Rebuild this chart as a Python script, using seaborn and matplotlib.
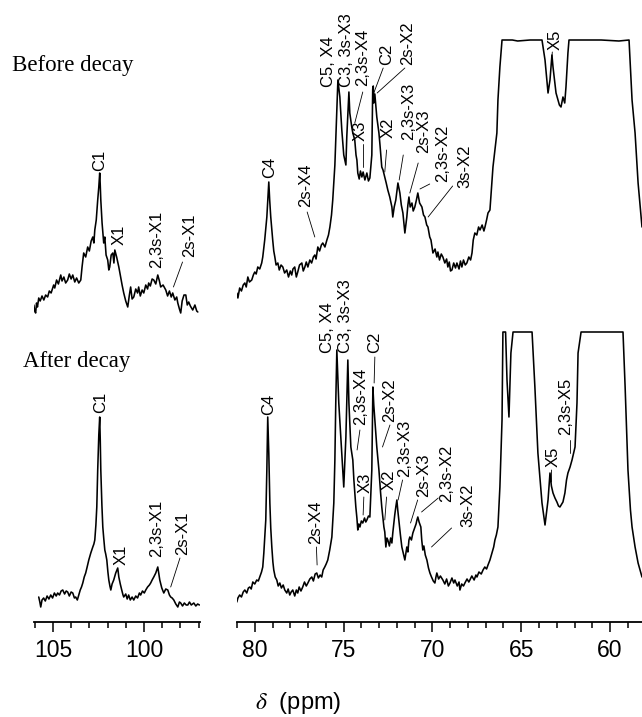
import numpy as np
import matplotlib
matplotlib.use("Agg")
import matplotlib.pyplot as plt
import seaborn as sns

# 13C CP/MAS spectra: (delta / ppm, intensity above own baseline, a.u.)
before_low = np.array([
    (106.05, 10), (106.0, 4), (105.95, 2), (105.9, 12), (105.85, 8), (105.78, 17), (105.7, 14),
    (105.6, 19), (105.5, 15), (105.4, 20), (105.29, 18), (105.2, 24), (105.1, 22), (104.96, 30),
    (104.9, 27), (104.8, 35), (104.7, 31), (104.57, 40), (104.5, 34), (104.4, 38), (104.3, 32),
    (104.19, 35), (104.1, 41), (104.0, 36), (103.91, 40), (103.8, 33), (103.7, 37), (103.58, 32),
    (103.47, 35), (103.4, 48), (103.31, 62), (103.2, 58), (103.09, 68), (103.0, 64), (102.9, 74),
    (102.81, 78), (102.75, 72), (102.70, 85), (102.62, 95), (102.54, 115), (102.48, 128),
    (102.43, 142), (102.40, 130), (102.37, 115), (102.3, 92), (102.21, 72), (102.15, 78),
    (102.08, 60), (101.99, 55), (101.93, 45), (101.88, 48), (101.8, 60), (101.71, 62),
    (101.65, 52), (101.60, 65), (101.5, 58), (101.38, 48), (101.3, 40), (101.2, 30), (101.11, 22),
    (101.0, 14), (100.89, 8), (100.8, 20), (100.73, 28), (100.65, 16), (100.56, 18), (100.45, 26),
    (100.35, 22), (100.29, 28), (100.2, 19), (100.1, 25), (100.01, 22), (99.9, 30), (99.8, 26),
    (99.74, 32), (99.65, 29), (99.55, 36), (99.46, 35), (99.35, 31), (99.24, 40), (99.15, 34),
    (99.08, 28), (98.95, 30), (98.8, 25), (98.7, 19), (98.6, 24), (98.5, 18), (98.42, 22),
    (98.3, 15), (98.2, 18), (98.14, 12), (98.05, 6), (97.98, 2), (97.9, 14), (97.8, 20),
    (97.70, 20), (97.62, 10), (97.54, 13), (97.45, 9), (97.32, 5), (97.2, 10), (97.1, 4), (97.04, 3),
])

before_high = np.array([
    (81.01, 22), (80.95, 17), (80.85, 27), (80.75, 24), (80.65, 30), (80.56, 32), (80.48, 28),
    (80.39, 38), (80.3, 33), (80.17, 35), (80.08, 40), (80.0, 43), (79.92, 41), (79.83, 48),
    (79.72, 46), (79.61, 52), (79.55, 58), (79.44, 75), (79.32, 98), (79.25, 120), (79.21, 133),
    (79.16, 115), (79.10, 98), (78.99, 75), (78.93, 64), (78.87, 58), (78.8, 50), (78.7, 52),
    (78.62, 45), (78.52, 50), (78.42, 48), (78.32, 42), (78.2, 45), (78.1, 38), (78.0, 44),
    (77.92, 40), (77.85, 46), (77.75, 48), (77.66, 38), (77.58, 43), (77.48, 50), (77.35, 52),
    (77.27, 44), (77.18, 48), (77.1, 53), (77.01, 48), (76.9, 55), (76.8, 52), (76.7, 58),
    (76.62, 60), (76.55, 56), (76.45, 68), (76.35, 64), (76.25, 70), (76.17, 72), (76.05, 68),
    (75.94, 75), (75.85, 80), (75.77, 88), (75.68, 100), (75.61, 115), (75.49, 150), (75.38, 205),
    (75.32, 235), (75.21, 218), (75.10, 185), (74.99, 160), (74.87, 150), (74.82, 178),
    (74.70, 223), (74.65, 202), (74.54, 188), (74.48, 182), (74.37, 175), (74.3, 160), (74.25, 155),
    (74.20, 142), (74.12, 136), (74.05, 144), (73.97, 138), (73.9, 143), (73.8, 135), (73.69, 142),
    (73.6, 134), (73.52, 137), (73.41, 160), (73.36, 226), (73.33, 229), (73.30, 212), (73.24, 221),
    (73.13, 198), (73.01, 182), (72.95, 170), (72.85, 148), (72.78, 145), (72.68, 138), (72.6, 132),
    (72.51, 125), (72.4, 118), (72.28, 108), (72.23, 98), (72.15, 108), (72.06, 115), (71.94, 132),
    (71.83, 122), (71.75, 110), (71.66, 102), (71.55, 82), (71.44, 98), (71.38, 110), (71.32, 118),
    (71.25, 108), (71.15, 112), (71.08, 104), (70.99, 108), (70.9, 115), (70.82, 122), (70.72, 112),
    (70.59, 108), (70.5, 100), (70.42, 98), (70.32, 90), (70.25, 88), (70.15, 78), (70.08, 75),
    (69.97, 62), (69.85, 66), (69.75, 58), (69.69, 63), (69.6, 55), (69.5, 61), (69.41, 58),
    (69.3, 52), (69.2, 56), (69.13, 48), (69.05, 53), (68.98, 44), (68.9, 45), (68.8, 52),
    (68.7, 47), (68.62, 52), (68.5, 46), (68.42, 54), (68.34, 48), (68.25, 55), (68.15, 50),
    (68.06, 52), (67.95, 58), (67.85, 55), (67.77, 62), (67.7, 75), (67.61, 82), (67.5, 80),
    (67.4, 88), (67.32, 85), (67.2, 90), (67.1, 84), (67.04, 88), (66.95, 95), (66.87, 102),
    (66.76, 105), (66.59, 148), (66.37, 182), (66.31, 215), (66.20, 248), (66.08, 275),
    (65.5, 275), (65.2, 274), (64.5, 275), (63.83, 275), (63.66, 255), (63.49, 222), (63.38, 235),
    (63.27, 260), (63.21, 248), (63.04, 222), (62.93, 215), (62.85, 210), (62.76, 208),
    (62.65, 218), (62.55, 212), (62.48, 228), (62.37, 262), (62.31, 275), (60.5, 275), (59.5, 274),
    (58.93, 275), (58.76, 215), (58.59, 182), (58.42, 132), (58.2, 88),
])

after_low = np.array([
    (105.78, 13), (105.72, 8), (105.67, 3), (105.6, 10), (105.51, 12), (105.42, 9), (105.32, 14),
    (105.22, 11), (105.12, 15), (105.02, 12), (104.92, 17), (104.82, 14), (104.74, 17),
    (104.64, 15), (104.55, 19), (104.46, 20), (104.36, 16), (104.27, 19), (104.19, 18), (104.1, 14),
    (104.0, 18), (103.91, 17), (103.82, 12), (103.75, 13), (103.66, 10), (103.58, 15), (103.5, 20),
    (103.43, 23), (103.36, 27), (103.28, 33), (103.20, 37), (103.12, 43), (103.03, 50),
    (102.92, 57), (102.81, 63), (102.75, 66), (102.70, 70), (102.64, 85), (102.59, 103),
    (102.54, 140), (102.48, 175), (102.43, 193), (102.40, 170), (102.37, 140), (102.31, 105),
    (102.26, 83), (102.21, 72), (102.15, 60), (102.1, 56), (102.04, 50), (101.98, 38), (101.93, 30),
    (101.87, 24), (101.82, 20), (101.75, 26), (101.66, 30), (101.55, 37), (101.44, 42),
    (101.38, 33), (101.3, 26), (101.22, 20), (101.15, 15), (101.11, 13), (101.0, 16), (100.92, 11),
    (100.84, 15), (100.75, 10), (100.65, 13), (100.56, 10), (100.45, 14), (100.35, 12),
    (100.25, 17), (100.18, 15), (100.08, 19), (99.98, 17), (99.90, 20), (99.8, 23), (99.7, 25),
    (99.63, 27), (99.55, 30), (99.46, 33), (99.35, 37), (99.24, 43), (99.18, 36), (99.13, 30),
    (99.02, 22), (98.91, 17), (98.8, 21), (98.69, 20), (98.6, 15), (98.53, 13), (98.45, 12),
    (98.36, 10), (98.25, 6), (98.14, 3), (98.05, 8), (97.98, 7), (97.88, 4), (97.78, 7), (97.68, 5),
    (97.59, 5), (97.5, 8), (97.4, 5), (97.26, 7), (97.15, 4), (97.05, 6), (96.95, 5),
])

after_high = np.array([
    (81.01, 8), (80.95, 12), (80.85, 15), (80.75, 13), (80.65, 18), (80.56, 20), (80.45, 17),
    (80.36, 22), (80.28, 23), (80.2, 21), (80.11, 28), (80.0, 26), (79.89, 30), (79.8, 29),
    (79.72, 33), (79.62, 38), (79.55, 43), (79.49, 57), (79.38, 90), (79.32, 140), (79.27, 193),
    (79.24, 175), (79.21, 157), (79.15, 107), (79.1, 82), (79.04, 63), (78.98, 48), (78.93, 40),
    (78.85, 33), (78.76, 30), (78.68, 24), (78.59, 27), (78.5, 22), (78.4, 25), (78.31, 20),
    (78.2, 17), (78.12, 21), (78.03, 15), (77.95, 18), (77.86, 20), (77.75, 14), (77.66, 20),
    (77.58, 17), (77.5, 23), (77.4, 19), (77.30, 23), (77.2, 28), (77.1, 24), (77.01, 27),
    (76.9, 31), (76.79, 33), (76.7, 29), (76.6, 36), (76.51, 37), (76.42, 32), (76.32, 35),
    (76.23, 33), (76.15, 40), (76.06, 43), (75.98, 46), (75.89, 50), (75.78, 60), (75.66, 73),
    (75.55, 107), (75.49, 150), (75.44, 207), (75.38, 260), (75.27, 207), (75.18, 180),
    (75.10, 157), (74.99, 123), (74.87, 173), (74.76, 250), (74.70, 207), (74.59, 163),
    (74.48, 150), (74.42, 130), (74.31, 103), (74.25, 92), (74.20, 80), (74.14, 86), (74.08, 83),
    (74.0, 89), (73.92, 87), (73.82, 92), (73.75, 88), (73.69, 90), (73.6, 94), (73.52, 93),
    (73.41, 140), (73.35, 223), (73.30, 205), (73.24, 190), (73.13, 163), (73.01, 140),
    (72.92, 118), (72.85, 103), (72.73, 83), (72.68, 78), (72.62, 63), (72.56, 72), (72.51, 70),
    (72.42, 64), (72.35, 72), (72.28, 67), (72.23, 77), (72.12, 95), (72.06, 103), (72.00, 110),
    (71.95, 100), (71.89, 90), (71.8, 75), (71.72, 63), (71.63, 56), (71.55, 50), (71.5, 56),
    (71.44, 63), (71.38, 58), (71.32, 70), (71.27, 73), (71.18, 70), (71.10, 77), (71.0, 82),
    (70.92, 86), (70.87, 90), (70.82, 93), (70.75, 88), (70.65, 83), (70.6, 70), (70.54, 60),
    (70.48, 64), (70.4, 55), (70.31, 50), (70.22, 42), (70.14, 37), (70.05, 33), (69.95, 29),
    (69.86, 27), (69.8, 33), (69.75, 37), (69.65, 31), (69.55, 34), (69.41, 30), (69.3, 26),
    (69.2, 31), (69.1, 24), (69.01, 27), (68.9, 32), (68.8, 27), (68.73, 30), (68.6, 24),
    (68.5, 28), (68.45, 20), (68.35, 26), (68.25, 24), (68.17, 27), (68.05, 31), (67.95, 28),
    (67.89, 30), (67.78, 34), (67.65, 30), (67.55, 35), (67.49, 33), (67.38, 38), (67.25, 36),
    (67.15, 40), (67.05, 43), (66.95, 41), (66.87, 45), (66.76, 50), (66.65, 57), (66.55, 63),
    (66.48, 70), (66.4, 75), (66.31, 83), (66.20, 123), (66.08, 190), (66.03, 278), (65.88, 278),
    (65.80, 230), (65.69, 193), (65.58, 257), (65.46, 278), (64.39, 278), (64.23, 223),
    (64.06, 157), (63.83, 107), (63.66, 85), (63.49, 110), (63.38, 137), (63.3, 124), (63.21, 117),
    (63.1, 112), (62.99, 108), (62.9, 104), (62.82, 103), (62.65, 108), (62.54, 117), (62.45, 130),
    (62.37, 137), (62.25, 143), (62.14, 150), (62.05, 157), (61.97, 163), (61.86, 207),
    (61.80, 257), (61.63, 278), (59.27, 278), (59.15, 223), (58.99, 140), (58.85, 100),
    (58.76, 83), (58.59, 63), (58.42, 47), (58.2, 33),
])

# peak assignments: (label, ppm, intensity at label foot, leader line or None)
before_low_labels = [
    ("C1", 102.43, 144, None),
    ("X1", 101.35, 70, None),
    ("2,3s-X1", 99.30, 47, None),
    ("2s-X1", 97.48, 58, ((97.88, 53), (98.38, 28))),
]
before_high_labels = [
    ("C4", 79.15, 137, None),
    ("2s-X4", 77.14, 108, ((77.05, 103), (76.62, 78))),
    ("C5, X4", 75.83, 228, None),
    ("C3, 3s-X3", 74.82, 228, None),
    ("2,3s-X4", 73.90, 229, ((73.92, 223), (74.37, 192))),
    ("X3", 74.08, 174, ((73.92, 171), (73.92, 148))),
    ("C2", 72.58, 250, ((72.77, 247), (73.30, 222))),
    ("2s-X2", 71.42, 250, ((71.55, 247), (73.11, 222))),
    ("X2", 72.49, 177, ((72.58, 165), (72.68, 143))),
    ("2,3s-X3", 71.36, 175, ((71.64, 160), (71.87, 135))),
    ("2s-X3", 70.52, 162, ((70.80, 152), (71.27, 122))),
    ("2,3s-X2", 69.45, 133, ((70.15, 131), (70.70, 126))),
    ("3s-X2", 68.17, 127, ((68.86, 129), (70.24, 98))),
    ("X5", 63.10, 265, ((63.25, 263), (63.29, 253))),
]
after_low_labels = [
    ("C1", 102.40, 197, None),
    ("X1", 101.24, 45, None),
    ("2,3s-X1", 99.31, 53, None),
    ("2s-X1", 97.88, 55, ((98.02, 52), (98.53, 23))),
]
after_high_labels = [
    ("C4", 79.20, 195, None),
    ("2s-X4", 76.58, 66, ((76.53, 63), (76.49, 45))),
    ("C5, X4", 75.90, 257, None),
    ("C3, 3s-X3", 74.89, 257, None),
    ("2,3s-X4", 74.05, 185, ((74.08, 180), (74.24, 160))),
    ("C2", 73.24, 257, ((73.24, 253), (73.28, 227))),
    ("2s-X2", 72.39, 188, ((72.39, 185), (72.81, 163))),
    ("X3", 73.76, 117, ((73.86, 113), (73.90, 95))),
    ("X2", 72.45, 120, ((72.58, 113), (72.68, 90))),
    ("2,3s-X3", 71.55, 133, ((71.68, 130), (71.93, 110))),
    ("2s-X3", 70.52, 113, ((70.83, 110), (71.23, 87))),
    ("2,3s-X2", 69.20, 108, ((69.67, 112), (70.61, 98))),
    ("3s-X2", 67.98, 83, ((68.92, 82), (70.05, 63))),
    ("X5", 63.19, 143, ((63.29, 140), (63.30, 128))),
    ("2,3s-X5", 62.50, 175, ((62.25, 170), (62.25, 157))),
]

sns.set_style("white")
plt.rcParams["font.family"] = ["Liberation Sans", "DejaVu Sans"]
plt.rcParams["mathtext.fontset"] = "stix"
plt.rcParams["text.color"] = "black"

W, H = 642, 717
fig = plt.figure(figsize=(W / 100, H / 100), dpi=100)
ax_l = fig.add_axes([34 / W, 1 - 622 / H, 166 / W, 622 / H])
ax_r = fig.add_axes([237 / W, 1 - 622 / H, 405 / W, 622 / H])

# vertical offsets of the two traces (stacked)
BEFORE_OFF, AFTER_OFF = 307, 12


def draw(ax, spec, off):
    sns.lineplot(x=spec[:, 0], y=spec[:, 1] + off, ax=ax, color="black",
                 linewidth=1.15, sort=False, estimator=None)


def annotate(ax, labels, off):
    for text, ppm, foot, leader in labels:
        ax.text(ppm, foot + off, text, rotation=90, ha="center", va="bottom",
                fontsize=12, color="black")
        if leader:
            (p1, i1), (p2, i2) = leader
            ax.plot([p1, p2], [i1 + off, i2 + off], color="black", lw=0.6)


draw(ax_l, before_low, BEFORE_OFF)
draw(ax_l, after_low, AFTER_OFF)
draw(ax_r, before_high, BEFORE_OFF)
draw(ax_r, after_high, AFTER_OFF)
annotate(ax_l, before_low_labels, BEFORE_OFF)
annotate(ax_l, after_low_labels, AFTER_OFF)
annotate(ax_r, before_high_labels, BEFORE_OFF)
annotate(ax_r, after_high_labels, AFTER_OFF)

for ax, lim, major, minor in (
    (ax_l, (106.04, 96.92), [105, 100], range(97, 107)),
    (ax_r, (81.0, 58.2), [80, 75, 70, 65, 60], range(59, 82)),
):
    ax.set_xlim(*lim)
    ax.set_ylim(0, 622)
    ax.set_xticks(major)
    ax.set_xticks(list(minor), minor=True)
    ax.set_yticks([])
    ax.set_xlabel("")
    ax.set_ylabel("")
    for s in ("left", "right", "top"):
        ax.spines[s].set_visible(False)
    ax.spines["bottom"].set_linewidth(1.3)
    ax.spines["bottom"].set_color("black")
    ax.tick_params(axis="x", which="major", bottom=True, direction="out", length=7,
                   width=1.1, colors="black", labelsize=16.5, pad=5)
    ax.tick_params(axis="x", which="minor", bottom=True, direction="out", length=4,
                   width=1.1, colors="black")
    ax.patch.set_alpha(0)

fig.text(12 / W, 1 - 65 / H, "Before decay", ha="left", va="center",
         family="Liberation Serif", fontsize=16.5)
fig.text(23 / W, 1 - 362 / H, "After decay", ha="left", va="center",
         family="Liberation Serif", fontsize=16.5)
fig.text(298 / W, 1 - 703 / H, r"$\delta$  (ppm)", ha="center", va="center", fontsize=17)

fig.savefig("out.png", dpi=100)
plt.close(fig)
